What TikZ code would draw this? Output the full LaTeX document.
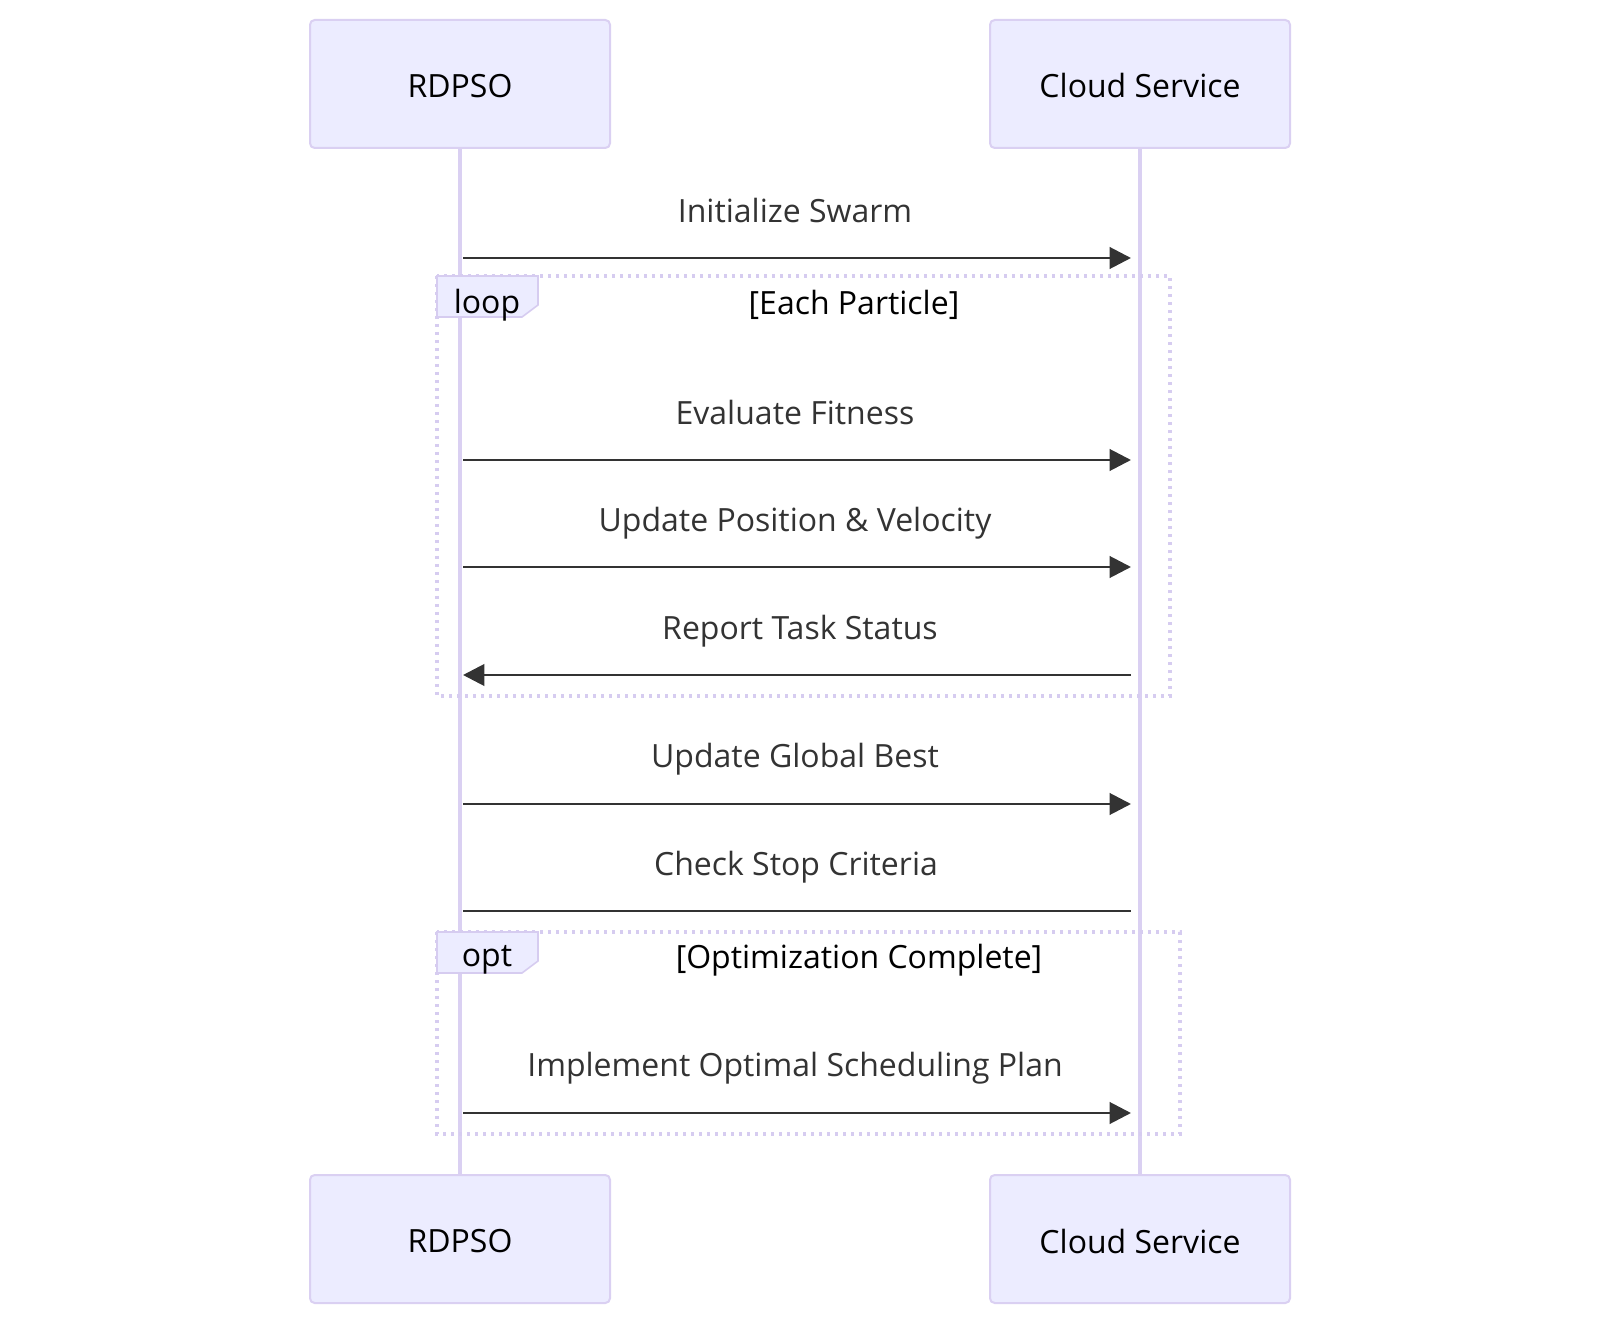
\documentclass[tikz,border=0pt]{standalone}
\usepackage{fontspec}
\setmainfont{Open Sans}
\usetikzlibrary{arrows.meta}
\definecolor{actorfill}{HTML}{ECECFF}
\definecolor{actorline}{HTML}{DAD0F2}
\definecolor{msgcol}{HTML}{333333}
\definecolor{loopline}{HTML}{D6CCF0}
\tikzset{
  actor/.style={draw=actorline, line width=1.5pt, fill=actorfill, rounded corners=3.5pt,
    minimum width=225pt, minimum height=96pt, inner sep=0pt, font=\fontsize{24}{28}\selectfont, text=black},
  actortext/.style={font=\fontsize{24}{28}\selectfont, text=black, inner sep=0pt},
  lifeline/.style={draw=actorline, line width=2.4pt},
  msg/.style={draw=msgcol, line width=2.2pt, -{Triangle[length=16pt,width=16pt]}},
  msgplain/.style={draw=msgcol, line width=2.2pt},
  msglabel/.style={font=\fontsize{24}{28}\selectfont, text=msgcol, inner sep=0pt},
  framebox/.style={draw=loopline, line width=2.4pt, dash pattern=on 2.6pt off 3.4pt},
  framelab/.style={draw=loopline, line width=1.2pt, fill=actorfill},
  frametext/.style={font=\fontsize{24}{28}\selectfont, text=black, inner sep=0pt},
}
\begin{document}
\begin{tikzpicture}[x=0.75pt, y=-0.75pt]
\useasboundingbox (0,0) rectangle (1600,1326);
% actors
\node[actor] (rt) at (460,84) {};
\node[actor] (ct) at (1140,84) {};
\node[actor] (rb) at (460,1239) {};
\node[actor] (cb) at (1140,1239) {};
\node[actortext] at (460,86) {RDPSO};
\node[actortext] at (1140,86) {Cloud Service};
\node[actortext] at (460,1241) {RDPSO};
\node[actortext] at (1140,1241) {Cloud Service};
% lifelines
\draw[lifeline] (rt.south) -- (rb.north);
\draw[lifeline] (ct.south) -- (cb.north);
% coordinates on lifelines
\foreach \n/\y in {a/258, b/460, c/567, d/675, e/804, f/911, g/1113} {
  \coordinate (L\n) at (463,\y);
  \coordinate (R\n) at (1131,\y);
}
% loop frame
\draw[framebox] (437,276) rectangle (1170,696);
\draw[framelab] (437,276) -- (538,276) -- (538,305) -- (522,317) -- (437,317) -- cycle;
\node[frametext] (looplab) at (487,305) {loop};
\node[frametext] (looptitle) at (854,305) {[Each Particle]};
% opt frame
\draw[framebox] (437,932) rectangle (1180,1134);
\draw[framelab] (437,932) -- (538,932) -- (538,961) -- (522,973) -- (437,973) -- cycle;
\node[frametext] (optlab) at (487,960) {opt};
\node[frametext] (opttitle) at (859,960) {[Optimization Complete]};
% messages
\draw[msg] (La) -- (Ra);
\node[msglabel] (ma) at (795,211) {Initialize Swarm};
\draw[msg] (Lb) -- (Rb);
\node[msglabel] (mb) at (795,413) {Evaluate Fitness};
\draw[msg] (Lc) -- (Rc);
\node[msglabel] (mc) at (795,523) {Update Position \& Velocity};
\draw[msg] (Rd) -- (Ld);
\node[msglabel] (md) at (800,631) {Report Task Status};
\draw[msg] (Le) -- (Re);
\node[msglabel] (me) at (795,759) {Update Global Best};
\draw[msgplain] (Lf) -- (Rf);
\node[msglabel] (mf) at (796,867) {Check Stop Criteria};
\draw[msg] (Lg) -- (Rg);
\node[msglabel] (mg) at (795,1068) {Implement Optimal Scheduling Plan};
\end{tikzpicture}
\end{document}
